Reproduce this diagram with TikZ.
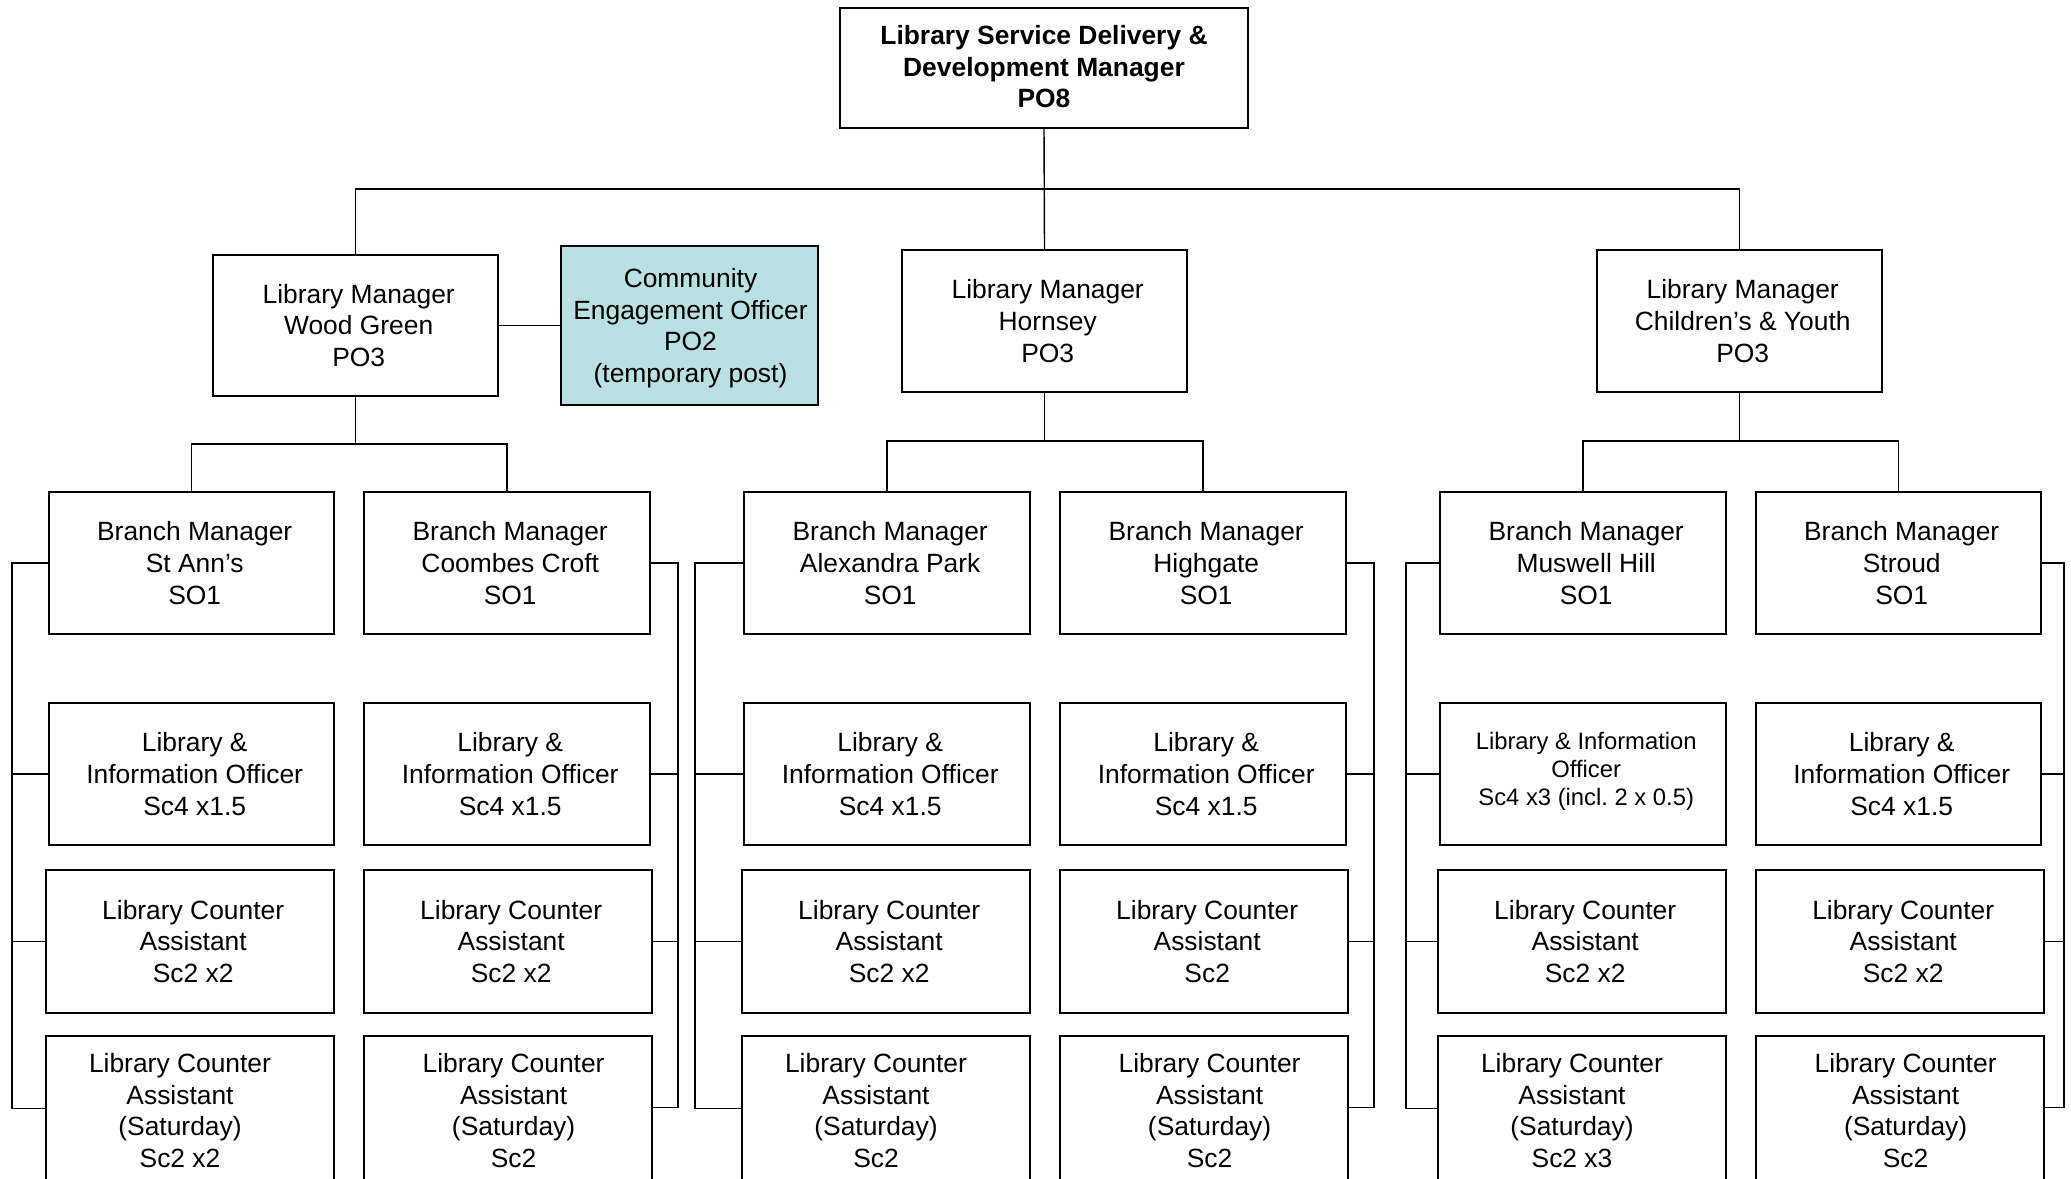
\documentclass[tikz,border=0pt]{standalone}
\usepackage{fontspec}
\setmainfont{Liberation Sans}
\definecolor{ceofill}{RGB}{187,224,227}
\newcommand\fs{\fontsize{13.2pt}{15.85pt}\selectfont}
\newcommand\fss{\fontsize{11.9pt}{14.2pt}\selectfont}
% #1 name, #2 x1, #3 y1, #4 x2, #5 y2, #6 box options, #7 text options, #8 text
\newcommand\pbox[8]{%
  \node[box,#6,minimum width={(#4-#2)*0.5pt},minimum height={(#5-#3)*0.5pt}] (#1) at ({(#2+#4)/2},{(#3+#5)/2}) {};
  \node[txt,#7] (#1t) at (#1.center) {#8};}
\tikzset{
  box/.style={draw=black, line width=0.7pt, inner sep=0pt, fill=white},
  txt/.style={inner sep=0pt, align=center, font=\fs},
  conn/.style={line width=0.7pt, draw=black},
  tr/.style={xshift=1.6pt},
}
\begin{document}
\begin{tikzpicture}[x=0.5pt,y=-0.5pt]
\useasboundingbox (0,0) rectangle (2071,1178);
\coordinate (h1) at (0,189);
\coordinate (h2) at (0,444);
\coordinate (h3) at (0,441);
\coordinate (busA) at (12,0);
\coordinate (busB) at (678,0);
\coordinate (busC) at (695,0);
\coordinate (busD) at (1374,0);
\coordinate (busE) at (1406,0);
\coordinate (busF) at (2064,0);

% top levels
\pbox{top}{840}{8}{1248}{128}{}{yshift=0.6pt,font=\fs\bfseries}{Library Service Delivery \&\\Development Manager\\PO8}
\pbox{wg}{213}{255}{498}{396}{}{tr}{Library Manager\\Wood Green\\PO3}
\pbox{ceo}{561}{246}{818}{405}{fill=ceofill}{xshift=0.5pt,yshift=-1.3pt}{Community\\Engagement Officer\\PO2\\(temporary post)}
\pbox{hor}{902}{250}{1187}{392}{}{tr}{Library Manager\\Hornsey\\PO3}
\pbox{chy}{1597}{250}{1882}{392}{}{tr}{Library Manager\\Children’s \& Youth\\PO3}

% column A (St Ann's)
\pbox{a1}{49}{492}{334}{634}{}{tr}{Branch Manager\\St Ann’s\\SO1}
\pbox{a2}{49}{703}{334}{845}{}{tr}{Library \&\\Information Officer\\Sc4 x1.5}
\pbox{a3}{46}{870}{334}{1013}{}{tr}{Library Counter\\Assistant\\Sc2 x2}
\pbox{a4}{46}{1036}{334}{1185}{}{xshift=-5pt}{Library Counter\\Assistant\\(Saturday)\\Sc2 x2}
% column B (Coombes Croft)
\pbox{b1}{364}{492}{650}{634}{}{tr}{Branch Manager\\Coombes Croft\\SO1}
\pbox{b2}{364}{703}{650}{845}{}{tr}{Library \&\\Information Officer\\Sc4 x1.5}
\pbox{b3}{364}{870}{652}{1013}{}{tr}{Library Counter\\Assistant\\Sc2 x2}
\pbox{b4}{364}{1036}{652}{1185}{}{xshift=2.8pt}{Library Counter\\Assistant\\(Saturday)\\Sc2}
% column C (Alexandra Park)
\pbox{c1}{744}{492}{1030}{634}{}{tr}{Branch Manager\\Alexandra Park\\SO1}
\pbox{c2}{744}{703}{1030}{845}{}{tr}{Library \&\\Information Officer\\Sc4 x1.5}
\pbox{c3}{742}{870}{1030}{1013}{}{tr}{Library Counter\\Assistant\\Sc2 x2}
\pbox{c4}{742}{1036}{1030}{1185}{}{xshift=-5pt}{Library Counter\\Assistant\\(Saturday)\\Sc2}
% column D (Highgate)
\pbox{d1}{1060}{492}{1346}{634}{}{tr}{Branch Manager\\Highgate\\SO1}
\pbox{d2}{1060}{703}{1346}{845}{}{tr}{Library \&\\Information Officer\\Sc4 x1.5}
\pbox{d3}{1060}{870}{1348}{1013}{}{tr}{Library Counter\\Assistant\\Sc2}
\pbox{d4}{1060}{1036}{1348}{1185}{}{xshift=2.8pt}{Library Counter\\Assistant\\(Saturday)\\Sc2}
% column E (Muswell Hill)
\pbox{e1}{1440}{492}{1726}{634}{}{tr}{Branch Manager\\Muswell Hill\\SO1}
\pbox{e2}{1440}{703}{1726}{845}{}{tr,yshift=1.3pt,font=\fss}{Library \& Information\\Officer\\Sc4 x3 (incl.\ 2 x 0.5)}
\pbox{e3}{1438}{870}{1726}{1013}{}{tr}{Library Counter\\Assistant\\Sc2 x2}
\pbox{e4}{1438}{1036}{1726}{1185}{}{xshift=-5pt}{Library Counter\\Assistant\\(Saturday)\\Sc2 x3}
% column F (Stroud)
\pbox{f1}{1756}{492}{2041}{634}{}{tr}{Branch Manager\\Stroud\\SO1}
\pbox{f2}{1756}{703}{2041}{845}{}{tr}{Library \&\\Information Officer\\Sc4 x1.5}
\pbox{f3}{1756}{870}{2044}{1013}{}{tr}{Library Counter\\Assistant\\Sc2 x2}
\pbox{f4}{1756}{1036}{2044}{1185}{}{xshift=2.8pt}{Library Counter\\Assistant\\(Saturday)\\Sc2}

% tree connectors
\draw[conn] (top.south) -- (hor.north);
\draw[conn] (wg.north) -- (wg.north |- h1) -- (chy.north |- h1) -- (chy.north);
\draw[conn] (wg.east) -- (ceo.west |- wg.east);
\draw[conn] (wg.south) -- (wg.south |- h2);
\draw[conn] (a1.north) -- (a1.north |- h2) -- (b1.north |- h2) -- (b1.north);
\draw[conn] (hor.south) -- (hor.south |- h3);
\draw[conn] (c1.north) -- (c1.north |- h3) -- (d1.north |- h3) -- (d1.north);
\draw[conn] (chy.south) -- (chy.south |- h3);
\draw[conn] (e1.north) -- (e1.north |- h3) -- (f1.north |- h3) -- (f1.north);

% buses
\draw[conn] (a1.west) -- (a1.west -| busA) -- ([yshift=1pt]a4.west -| busA) -- ([yshift=1pt]a4.west);
\draw[conn] (a2.west) -- (a2.west -| busA);
\draw[conn] (a3.west) -- (a3.west -| busA);
\draw[conn] (b1.east) -- (b1.east -| busB) -- ([yshift=1.5pt]b4.east -| busB) -- ([yshift=1.5pt]b4.east);
\draw[conn] (b2.east) -- (b2.east -| busB);
\draw[conn] (b3.east) -- (b3.east -| busB);
\draw[conn] (c1.west) -- (c1.west -| busC) -- ([yshift=1pt]c4.west -| busC) -- ([yshift=1pt]c4.west);
\draw[conn] (c2.west) -- (c2.west -| busC);
\draw[conn] (c3.west) -- (c3.west -| busC);
\draw[conn] (d1.east) -- (d1.east -| busD) -- ([yshift=1.5pt]d4.east -| busD) -- ([yshift=1.5pt]d4.east);
\draw[conn] (d2.east) -- (d2.east -| busD);
\draw[conn] (d3.east) -- (d3.east -| busD);
\draw[conn] (e1.west) -- (e1.west -| busE) -- ([yshift=1pt]e4.west -| busE) -- ([yshift=1pt]e4.west);
\draw[conn] (e2.west) -- (e2.west -| busE);
\draw[conn] (e3.west) -- (e3.west -| busE);
\draw[conn] (f1.east) -- (f1.east -| busF) -- ([yshift=1.5pt]f4.east -| busF) -- ([yshift=1.5pt]f4.east);
\draw[conn] (f2.east) -- (f2.east -| busF);
\draw[conn] (f3.east) -- (f3.east -| busF);
\end{tikzpicture}
\end{document}
